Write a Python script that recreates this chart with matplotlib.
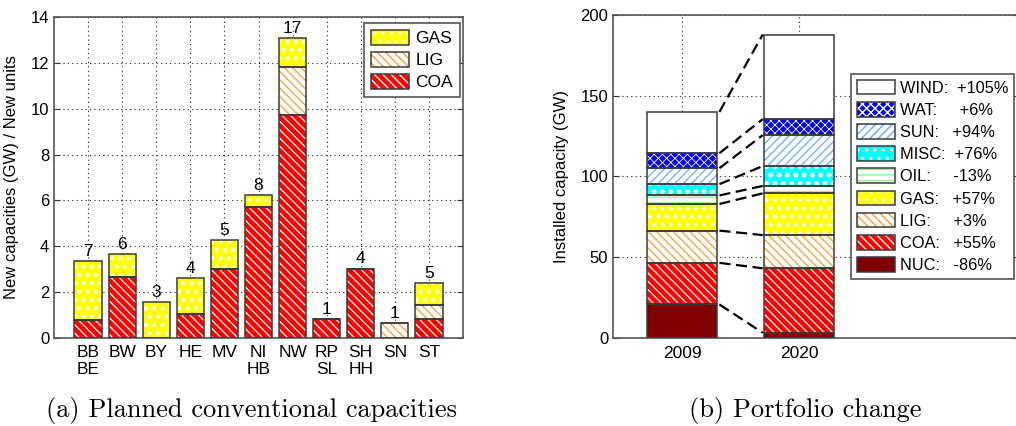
import matplotlib as mpl
mpl.use("Agg")
import matplotlib.pyplot as plt
from matplotlib.patches import Patch
from matplotlib.legend_handler import HandlerTuple

# ---------------- data ----------------
regions = ["BB\nBE", "BW", "BY", "HE", "MV", "NI\nHB", "NW", "RP\nSL", "SH\nHH", "SN", "ST"]
coa_new = [0.78, 2.65, 0.0, 1.03, 3.03, 5.71, 9.71, 0.83, 3.03, 0.0, 0.81]
lig_new = [0.0, 0.0, 0.0, 0.0, 0.0, 0.0, 2.13, 0.0, 0.0, 0.65, 0.62]
gas_new = [2.58, 1.03, 1.57, 1.59, 1.23, 0.51, 1.26, 0.0, 0.0, 0.0, 0.95]
new_units = [7, 6, 3, 4, 5, 8, 17, 1, 4, 1, 5]

years = ["2009", "2020"]
techs = ["NUC", "COA", "LIG", "GAS", "OIL", "MISC", "SUN", "WAT", "WIND"]
cap_2009 = [20.5, 25.8, 20.0, 16.5, 5.3, 7.0, 9.9, 9.3, 25.6]
cap_2020 = [2.9, 40.0, 20.6, 25.9, 4.6, 12.3, 19.2, 9.9, 52.5]
change_labels = ["NUC:   -86%", "COA:   +55%", "LIG:     +3%", "GAS:   +57%",
                 "OIL:     -13%", "MISC:  +76%", "SUN:   +94%", "WAT:     +6%",
                 "WIND:  +105%"]

# ---------------- styles ----------------
STYLE = {
    "NUC":  dict(face="#7f0000", hatch=None,          hc="#7f0000", hlw=1.0),
    "COA":  dict(face="#ff0000", hatch="\\\\\\\\",    hc="#ffffff", hlw=0.9),
    "LIG":  dict(face="#ffffff", hatch="\\\\\\\\",    hc="#ff9933", hlw=0.9),
    "GAS":  dict(face="#ffff00", hatch="..",          hc="#ffffff", hlw=1.6),
    "OIL":  dict(face="#ffffff", hatch="---",         hc="#99ee99", hlw=1.0),
    "MISC": dict(face="#00ffff", hatch="..",          hc="#ffffff", hlw=2.2),
    "SUN":  dict(face="#ffffff", hatch="////",        hc="#66aaff", hlw=0.9),
    "WAT":  dict(face="#0000ee", hatch="xxxx",        hc="#ffffff", hlw=0.6),
    "WIND": dict(face="#ffffff", hatch=None,          hc="#ffffff", hlw=1.0),
}
EDGE = "#3a3a3a"
SANS = "Liberation Sans"

plt.rcParams["font.family"] = SANS
plt.rcParams["hatch.linewidth"] = 1.0


def hatched_bar(ax, x, h, bottom, width, key):
    st = STYLE[key]
    with mpl.rc_context({"hatch.linewidth": st["hlw"]}):
        bars = ax.bar(x, h, width, bottom=bottom, color=st["face"],
                      edgecolor=st["hc"], linewidth=0, hatch=st["hatch"], zorder=2)
    for b in bars:
        if hasattr(b, "set_hatch_linewidth"):
            b.set_hatch_linewidth(st["hlw"])
    ax.bar(x, h, width, bottom=bottom, facecolor="none", edgecolor=EDGE,
           linewidth=1.1, zorder=3)


def legend_handle(key):
    st = STYLE[key]
    with mpl.rc_context({"hatch.linewidth": st["hlw"]}):
        p1 = Patch(facecolor=st["face"], edgecolor=st["hc"], linewidth=0, hatch=st["hatch"])
    if hasattr(p1, "set_hatch_linewidth"):
        p1.set_hatch_linewidth(st["hlw"])
    p2 = Patch(facecolor="none", edgecolor=EDGE, linewidth=1.1)
    return (p1, p2)


def style_axes(ax):
    for s in ax.spines.values():
        s.set_color("#555555")
        s.set_linewidth(1.2)
    ax.grid(True, linestyle=(0, (1, 3)), color="#222222", linewidth=0.8)
    ax.set_axisbelow(True)
    ax.tick_params(direction="in", length=4, width=0.8, color="#333333",
                   labelsize=12, right=True)


fig = plt.figure(figsize=(10.16, 4.26), dpi=100)

# ---------------- (a) planned conventional capacities ----------------
axa = fig.add_axes([54 / 1016, 1 - 338 / 426, 409 / 1016, 321 / 426])
xs = list(range(1, len(regions) + 1))
wa = 0.8
b0 = [0.0] * len(xs)
hatched_bar(axa, xs, coa_new, b0, wa, "COA")
b1 = [c for c in coa_new]
hatched_bar(axa, xs, lig_new, b1, wa, "LIG")
b2 = [c + l for c, l in zip(coa_new, lig_new)]
hatched_bar(axa, xs, gas_new, b2, wa, "GAS")
tops = [c + l + g for c, l, g in zip(coa_new, lig_new, gas_new)]
for x, t, n in zip(xs, tops, new_units):
    axa.annotate(str(n), (x, t), xytext=(0, 1.5), textcoords="offset points",
                 ha="center", va="bottom", fontsize=12.5)
axa.set_xlim(0, 12)
axa.set_ylim(0, 14)
axa.set_xticks(xs)
axa.set_xticklabels(regions, fontsize=12.5, linespacing=1.15)
axa.set_yticks(range(0, 15, 2))
style_axes(axa)
axa.tick_params(axis="x", pad=5, labelsize=12.5)
axa.set_ylabel("New capacities (GW) / New units", fontsize=12, labelpad=8)
hl = [legend_handle(k) for k in ["GAS", "LIG", "COA"]]
leg = axa.legend(hl, ["GAS", "LIG", "COA"], loc="upper right",
                 bbox_to_anchor=(0.992, 0.982), borderaxespad=0, fancybox=False,
                 edgecolor="#555555", framealpha=1, fontsize=12.5,
                 handlelength=2.2, handleheight=1.0, labelspacing=0.3,
                 handletextpad=0.35, borderpad=0.4,
                 handler_map={tuple: HandlerTuple(ndivide=1, pad=0)})
leg.get_frame().set_linewidth(1.2)

# ---------------- (b) portfolio change ----------------
axb = fig.add_axes([613 / 1016, 1 - 337.5 / 426, 405 / 1016, 322.5 / 426])
wb = 0.6
xpos = [1, 2]
bot09, bot20 = 0.0, 0.0
cum09, cum20 = [], []
for k, v09, v20 in zip(techs, cap_2009, cap_2020):
    hatched_bar(axb, xpos, [v09, v20], [bot09, bot20], wb, k)
    bot09 += v09
    bot20 += v20
    cum09.append(bot09)
    cum20.append(bot20)
for c09, c20 in zip(cum09, cum20):
    axb.plot([1 + wb / 2 + 0.02, 2 - wb / 2 - 0.01], [c09, c20], color="black",
             linewidth=1.6, linestyle=(0, (5, 2.5)), zorder=4)
axb.set_xlim(1 - 69 / 117, 1 + 336 / 117)
axb.set_ylim(0, 200)
axb.set_xticks(xpos)
axb.set_xticklabels(years)
axb.set_yticks(range(0, 201, 50))
style_axes(axb)
axb.tick_params(axis="x", pad=6, labelsize=12.5)
axb.set_ylabel("Installed capacity (GW)", fontsize=12, labelpad=8)
hb = [legend_handle(k) for k in techs[::-1]]
leg2 = axb.legend(hb, change_labels[::-1], loc="upper left",
                  bbox_to_anchor=(0.588, 0.817), borderaxespad=0, fancybox=False,
                  edgecolor="#555555", framealpha=1, fontsize=11.8,
                  handlelength=2.35, handleheight=1.0, labelspacing=0.38,
                  handletextpad=0.28, borderpad=0.35,
                  handler_map={tuple: HandlerTuple(ndivide=1, pad=0)})
leg2.get_frame().set_linewidth(1.2)

# ---------------- captions ----------------
fig.text(251 / 1016, 1 - 411 / 426, "(a) Planned conventional capacities",
         family="cmr10", fontsize=19, ha="center", va="center")
fig.text(805 / 1016, 1 - 411 / 426, "(b) Portfolio change",
         family="cmr10", fontsize=19, ha="center", va="center")

fig.savefig("out.png", dpi=100, facecolor="white")
